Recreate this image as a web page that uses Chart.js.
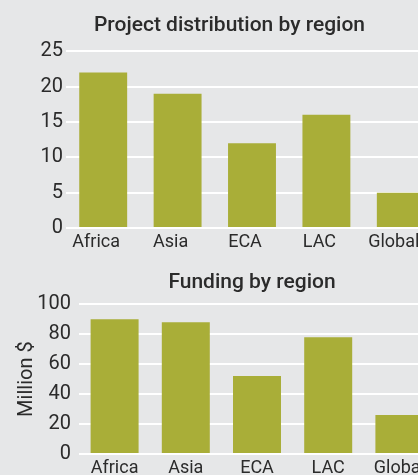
<!DOCTYPE html>
<html>
<head>
<meta charset="utf-8">
<script src="https://cdn.jsdelivr.net/npm/chart.js@4.4.0/dist/chart.umd.min.js"></script>
<style>
  html, body { margin: 0; padding: 0; background: #e6e7e8; }
  #wrap { position: relative; width: 418px; height: 475px; overflow: hidden; background: #e6e7e8; }
  #wrap canvas { position: absolute; left: 0; }
  #projects { top: 0; }
  #funding { top: 250px; }
</style>
</head>
<body>
<div id="wrap">
  <canvas id="projects" width="459" height="255"></canvas>
  <canvas id="funding" width="504" height="225"></canvas>
</div>
<script>
// regions on the x axis
const regions = ['Africa', 'Asia', 'ECA', 'LAC', 'Global'];

// number of projects per region
const projectCounts = [22, 19, 12, 16, 5];

// funding per region, million $
const fundingMillions = [90, 88, 52, 78, 26];

const projectTicks = { min: 0, max: 25, step: 5 };
const fundingTicks = { min: 0, max: 100, step: 20 };

const barColor = '#a9ae38';
const textColor = '#2b2b2b';
const fontFamily = 'Roboto, "DejaVu Sans", sans-serif';

Chart.defaults.font.family = fontFamily;
Chart.defaults.color = textColor;
Chart.defaults.animation = false;

function makeBarChart(canvasId, opts) {
    const ctx = document.getElementById(canvasId).getContext('2d');
    return new Chart(ctx, {
        type: 'bar',
        data: {
            labels: regions,
            datasets: [{
                data: opts.values,
                backgroundColor: barColor,
                borderWidth: 0,
                barPercentage: opts.barPct,
                categoryPercentage: 1
            }]
        },
        options: {
            responsive: false,
            animation: false,
            layout: { padding: 0 },
            plugins: {
                legend: { display: false },
                tooltip: { enabled: false },
                title: {
                    display: true,
                    text: opts.title,
                    color: textColor,
                    font: { size: 21, weight: '500' },
                    padding: opts.titlePad
                }
            },
            scales: {
                x: {
                    offset: true,
                    grid: { display: false, drawTicks: false },
                    border: { display: false },
                    ticks: {
                        color: textColor,
                        font: { size: 18 },
                        padding: 4,
                        labelOffset: opts.labelShift
                    },
                    afterFit: function (scale) { scale.height = opts.xAxisHeight; }
                },
                y: {
                    min: opts.ticks.min,
                    max: opts.ticks.max,
                    grid: { color: '#ffffff', lineWidth: 2, drawTicks: false },
                    border: { display: false },
                    ticks: {
                        stepSize: opts.ticks.step,
                        color: textColor,
                        font: { size: 20 },
                        padding: opts.tickPad
                    },
                    title: opts.yTitle,
                    afterFit: function (scale) { scale.width = opts.yAxisWidth; }
                },
                // empty axis on the right, only keeps the plot narrower than the title row
                spacer: {
                    type: 'linear',
                    position: 'right',
                    grid: { display: false },
                    border: { display: false },
                    ticks: { display: false },
                    afterFit: function (scale) { scale.width = opts.padRight; }
                }
            }
        }
    });
}

makeBarChart('projects', {
    values: projectCounts,
    title: 'Project distribution by region',
    titlePad: { top: 13, bottom: 13 },
    ticks: projectTicks,
    barPct: 0.644,
    padRight: 21,
    yAxisWidth: 66,
    xAxisHeight: 27,
    tickPad: 3,
    labelShift: -7,
    yTitle: { display: false }
});

makeBarChart('funding', {
    values: fundingMillions,
    title: 'Funding by region',
    titlePad: { top: 20, bottom: 9 },
    ticks: fundingTicks,
    barPct: 0.674,
    padRight: 69,
    yAxisWidth: 79,
    xAxisHeight: 21,
    tickPad: 8,
    labelShift: 0,
    yTitle: {
        display: true,
        text: 'Million $',
        color: textColor,
        font: { size: 20 },
        padding: { top: 15, bottom: 4 }
    }
});
</script>
</body>
</html>
